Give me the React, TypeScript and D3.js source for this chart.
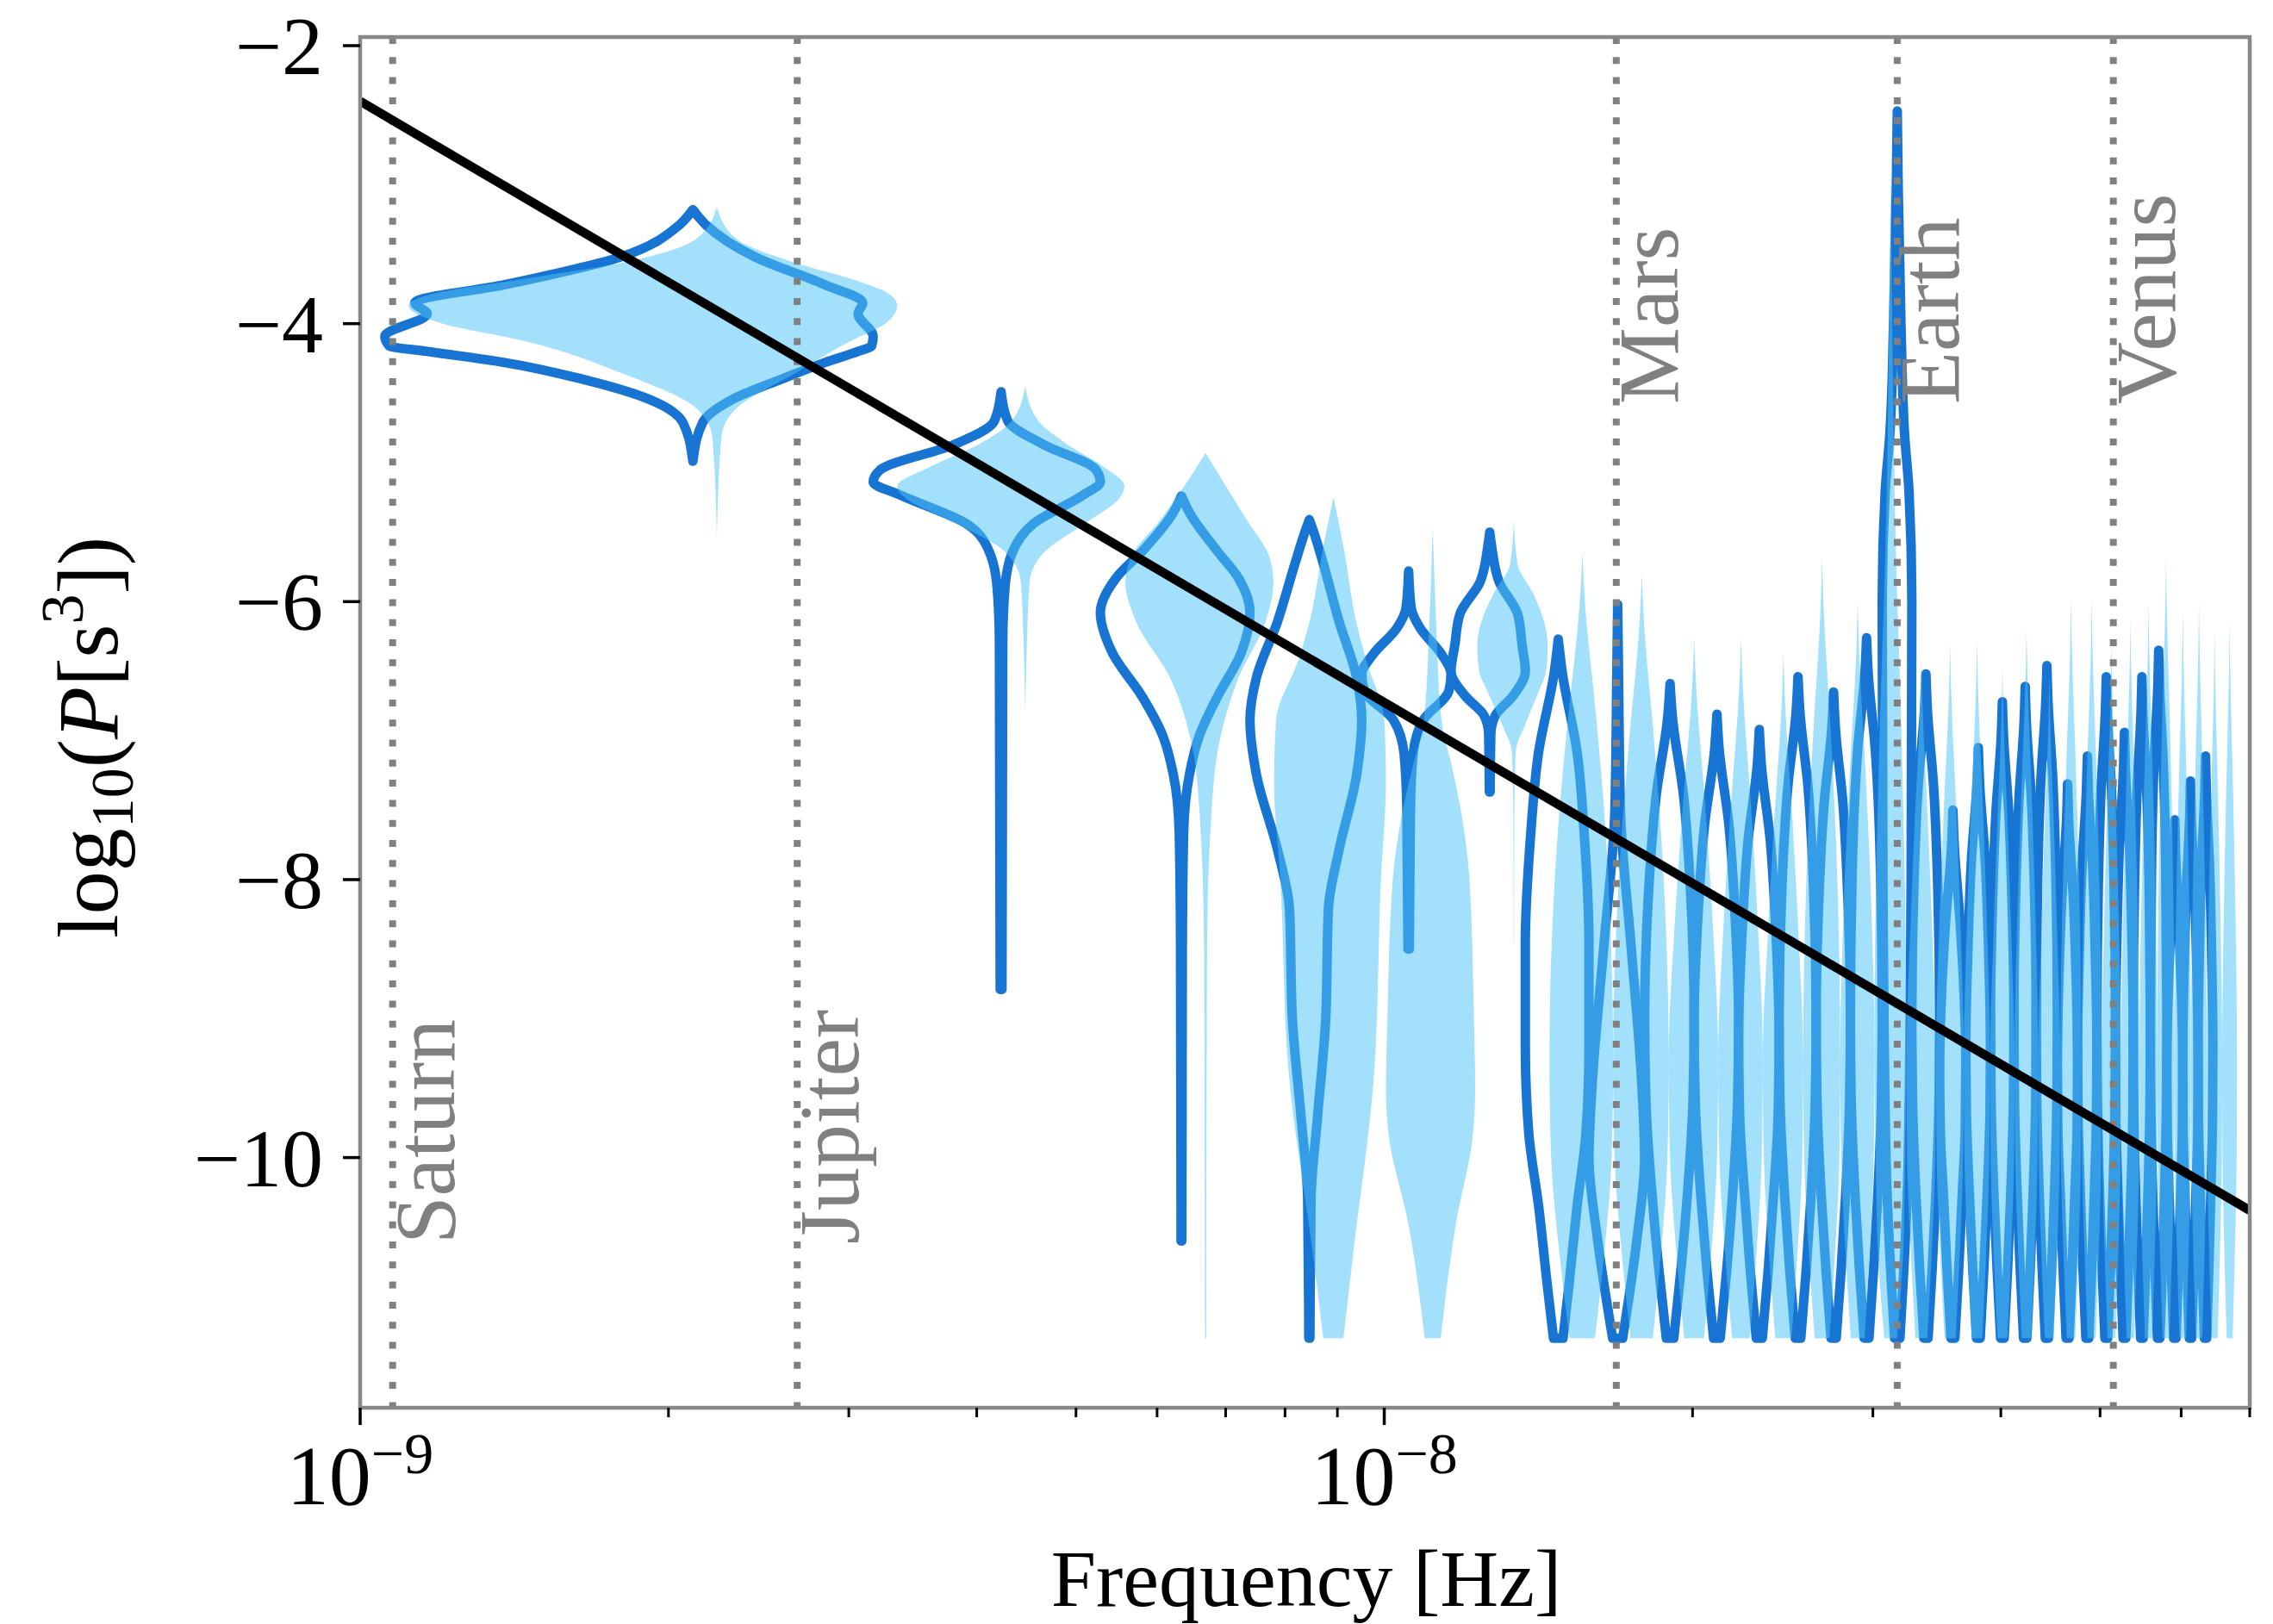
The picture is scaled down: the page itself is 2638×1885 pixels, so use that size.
import React from 'react';
import * as d3 from 'd3';

const W = 2638;
const H = 1885;

// frequency bins (nHz) of the outlined violins and of the filled violins
const freqA = [2.113, 4.225, 6.338, 8.450, 10.563, 12.676, 14.788, 16.901, 19.014, 21.126, 23.239, 25.352, 27.464, 29.577, 31.690, 33.802, 35.915, 38.028, 40.140, 42.253, 44.365, 46.478, 48.591, 50.703, 52.816, 54.929, 57.041, 59.154, 61.267, 63.379];
const freqB = [2.230, 4.461, 6.691, 8.921, 11.152, 13.382, 15.612, 17.843, 20.073, 22.304, 24.534, 26.764, 28.995, 31.225, 33.455, 35.686, 37.916, 40.147, 42.377, 44.607, 46.838, 49.068, 51.299, 53.529, 55.759, 57.990, 60.220, 62.450, 64.681, 66.911];
// violin half widths (nHz)
const halfWidthA = 1.056;
const halfWidthB = 1.115;

// violin profiles: [log10 P, relative half width]
const profA: number[][][] = [
  [[-3.18,0],[-3.29,0.06],[-3.52,0.30],[-3.72,0.69],[-3.85,0.93],[-3.93,0.90],[-4.09,1.0],[-4.16,0.99],[-4.20,0.90],[-4.28,0.69],[-4.40,0.44],[-4.55,0.18],[-4.71,0.045],[-4.99,0]],
  [[-4.49,0],[-4.70,0.06],[-4.87,0.40],[-5.05,0.95],[-5.14,1.0],[-5.23,0.82],[-5.44,0.30],[-5.65,0.10],[-5.90,0.035],[-6.30,0.015],[-8.79,0.008]],
  [[-5.24,0],[-5.36,0.11],[-5.64,0.51],[-5.83,0.82],[-6.08,1.0],[-6.36,0.87],[-6.69,0.50],[-6.96,0.25],[-7.24,0.11],[-7.66,0.03],[-8.50,0.012],[-10.6,0.005]],
  [[-5.41,0],[-5.50,0.08],[-5.72,0.25],[-6.14,0.55],[-6.55,0.90],[-6.85,1.0],[-7.24,0.90],[-7.79,0.55],[-8.21,0.35],[-9.0,0.30],[-9.7,0.15],[-10.3,0.03],[-11.3,0.01]],
  [[-5.78,0],[-6.05,0.06],[-6.19,0.26],[-6.38,0.77],[-6.52,1.0],[-6.64,0.95],[-6.85,0.34],[-7.10,0.10],[-7.50,0.04],[-8.50,0.015]],
  [[-5.50,0],[-5.60,0.05],[-5.86,0.26],[-6.09,0.78],[-6.32,0.91],[-6.50,1.0],[-6.68,0.64],[-6.82,0.15],[-6.95,0.03],[-7.37,0.01]],
  [[-6.27,0],[-6.50,0.12],[-7.09,0.61],[-7.70,0.85],[-8.46,1.0],[-9.20,1.0],[-9.82,0.90],[-10.36,0.60],[-10.9,0.35],[-11.3,0.15]],
  [[-6.02,0],[-6.50,0.03],[-7.50,0.10],[-8.50,0.50],[-9.50,0.90],[-10.0,1.0],[-10.6,0.70],[-11.3,0.18]],
  [[-6.59,0],[-6.84,0.1],[-7.39,0.55],[-8.09,0.85],[-9.0,1.0],[-9.6,0.95],[-10.3,0.7],[-10.8,0.45],[-11.3,0.15]],
  [[-6.81,0],[-7.06,0.1],[-7.61,0.55],[-8.31,0.85],[-9.0,1.0],[-9.6,0.95],[-10.3,0.7],[-10.8,0.45],[-11.3,0.15]],
  [[-6.92,0],[-7.17,0.1],[-7.72,0.55],[-8.42,0.85],[-9.1,1.0],[-9.7,0.95],[-10.3,0.7],[-10.8,0.45],[-11.3,0.15]],
  [[-6.54,0],[-6.79,0.1],[-7.34,0.55],[-8.04,0.85],[-9.0,1.0],[-9.6,0.95],[-10.3,0.7],[-10.8,0.45],[-11.3,0.15]],
  [[-6.65,0],[-6.90,0.1],[-7.45,0.55],[-8.15,0.85],[-9.0,1.0],[-9.6,0.95],[-10.3,0.7],[-10.8,0.45],[-11.3,0.15]],
  [[-6.26,0],[-6.51,0.1],[-7.06,0.55],[-7.76,0.85],[-9.0,1.0],[-9.6,0.95],[-10.3,0.7],[-10.8,0.45],[-11.3,0.15]],
  [[-2.47,0],[-3.00,0.06],[-4.00,0.25],[-4.80,0.50],[-5.20,0.80],[-6.00,1.0],[-8.00,0.95],[-10.0,0.75],[-10.8,0.45],[-11.3,0.18]],
  [[-6.52,0],[-6.77,0.1],[-7.32,0.55],[-8.02,0.85],[-9.0,1.0],[-9.6,0.95],[-10.3,0.7],[-10.8,0.45],[-11.3,0.15]],
  [[-7.50,0],[-7.75,0.1],[-8.30,0.55],[-8.80,0.85],[-9.3,1.0],[-9.8,0.95],[-10.3,0.7],[-10.8,0.45],[-11.3,0.15]],
  [[-7.05,0],[-7.30,0.1],[-7.85,0.55],[-8.55,0.85],[-9.2,1.0],[-9.7,0.95],[-10.3,0.7],[-10.8,0.45],[-11.3,0.15]],
  [[-6.72,0],[-6.97,0.1],[-7.52,0.55],[-8.22,0.85],[-9.0,1.0],[-9.6,0.95],[-10.3,0.7],[-10.8,0.45],[-11.3,0.15]],
  [[-6.61,0],[-6.86,0.1],[-7.41,0.55],[-8.11,0.85],[-9.0,1.0],[-9.6,0.95],[-10.3,0.7],[-10.8,0.45],[-11.3,0.15]],
  [[-6.46,0],[-6.71,0.1],[-7.26,0.55],[-7.96,0.85],[-9.0,1.0],[-9.6,0.95],[-10.3,0.7],[-10.8,0.45],[-11.3,0.15]],
  [[-7.31,0],[-7.56,0.1],[-8.11,0.55],[-8.70,0.85],[-9.3,1.0],[-9.8,0.95],[-10.3,0.7],[-10.8,0.45],[-11.3,0.15]],
  [[-7.11,0],[-7.36,0.1],[-7.91,0.55],[-8.61,0.85],[-9.2,1.0],[-9.7,0.95],[-10.3,0.7],[-10.8,0.45],[-11.3,0.15]],
  [[-6.54,0],[-6.79,0.1],[-7.34,0.55],[-8.04,0.85],[-9.0,1.0],[-9.6,0.95],[-10.3,0.7],[-10.8,0.45],[-11.3,0.15]],
  [[-6.94,0],[-7.19,0.1],[-7.74,0.55],[-8.44,0.85],[-9.1,1.0],[-9.7,0.95],[-10.3,0.7],[-10.8,0.45],[-11.3,0.15]],
  [[-6.54,0],[-6.79,0.1],[-7.34,0.55],[-8.04,0.85],[-9.0,1.0],[-9.6,0.95],[-10.3,0.7],[-10.8,0.45],[-11.3,0.15]],
  [[-6.35,0],[-6.60,0.1],[-7.15,0.55],[-7.85,0.85],[-9.0,1.0],[-9.6,0.95],[-10.3,0.7],[-10.8,0.45],[-11.3,0.15]],
  [[-7.57,0],[-7.82,0.1],[-8.37,0.55],[-8.85,0.85],[-9.3,1.0],[-9.8,0.95],[-10.3,0.7],[-10.8,0.45],[-11.3,0.15]],
  [[-7.29,0],[-7.54,0.1],[-8.09,0.55],[-8.70,0.85],[-9.3,1.0],[-9.8,0.95],[-10.3,0.7],[-10.8,0.45],[-11.3,0.15]],
  [[-7.11,0],[-7.36,0.1],[-7.91,0.55],[-8.61,0.85],[-9.2,1.0],[-9.7,0.95],[-10.3,0.7],[-10.8,0.45],[-11.3,0.15]],
];

const profB: number[][][] = [
  [[-3.16,0],[-3.39,0.09],[-3.56,0.38],[-3.68,0.71],[-3.79,0.95],[-3.87,1.0],[-4.00,0.92],[-4.12,0.71],[-4.36,0.38],[-4.61,0.09],[-4.82,0.02],[-5.54,0]],
  [[-4.45,0],[-4.70,0.12],[-4.86,0.38],[-5.03,0.77],[-5.17,1.0],[-5.25,0.95],[-5.44,0.57],[-5.64,0.18],[-5.86,0.04],[-6.30,0.015],[-6.80,0]],
  [[-4.93,0],[-5.11,0.21],[-5.41,0.58],[-5.67,0.92],[-5.86,0.99],[-6.14,0.87],[-6.55,0.46],[-6.96,0.21],[-7.52,0.08],[-8.50,0.02],[-11.3,0.008]],
  [[-5.25,0],[-5.58,0.17],[-6.18,0.44],[-6.41,0.60],[-6.86,0.97],[-7.30,1.0],[-8.00,0.90],[-9.37,0.77],[-10.73,0.35],[-11.3,0.18]],
  [[-5.46,0],[-6.18,0.08],[-6.86,0.20],[-7.20,0.45],[-7.55,0.68],[-8.00,0.86],[-9.00,0.97],[-9.50,1.0],[-9.82,0.95],[-10.5,0.52],[-11.3,0.18]],
  [[-5.41,0],[-5.73,0.10],[-5.95,0.55],[-6.15,0.85],[-6.32,0.95],[-6.50,0.90],[-6.64,0.70],[-6.86,0.35],[-7.09,0.05],[-7.50,0.015],[-8.45,0.005]],
  [[-5.65,0],[-6.00,0.08],[-6.85,0.45],[-7.65,0.75],[-9.3,1.0],[-10.0,0.95],[-10.7,0.7],[-11.3,0.4]],
  [[-5.80,0],[-6.15,0.08],[-7.00,0.45],[-7.80,0.75],[-9.3,1.0],[-10.0,0.95],[-10.7,0.7],[-11.3,0.4]],
  [[-6.26,0],[-6.61,0.08],[-7.46,0.45],[-8.26,0.75],[-9.3,1.0],[-10.0,0.95],[-10.7,0.7],[-11.3,0.4]],
  [[-6.26,0],[-6.61,0.08],[-7.46,0.45],[-8.26,0.75],[-9.3,1.0],[-10.0,0.95],[-10.7,0.7],[-11.3,0.4]],
  [[-6.37,0],[-6.72,0.08],[-7.57,0.45],[-8.37,0.75],[-9.3,1.0],[-10.0,0.95],[-10.7,0.7],[-11.3,0.4]],
  [[-5.69,0],[-6.04,0.08],[-6.89,0.45],[-7.69,0.75],[-9.3,1.0],[-10.0,0.95],[-10.7,0.7],[-11.3,0.4]],
  [[-6.00,0],[-6.35,0.08],[-7.20,0.45],[-8.00,0.75],[-9.3,1.0],[-10.0,0.95],[-10.7,0.7],[-11.3,0.4]],
  [[-2.90,0],[-4.00,0.10],[-5.50,0.30],[-7.00,0.70],[-9.00,1.0],[-10.5,0.85],[-11.3,0.40]],
  [[-6.40,0],[-6.75,0.08],[-7.60,0.45],[-8.40,0.75],[-9.3,1.0],[-10.0,0.95],[-10.7,0.7],[-11.3,0.4]],
  [[-6.30,0],[-6.65,0.08],[-7.50,0.45],[-8.30,0.75],[-9.3,1.0],[-10.0,0.95],[-10.7,0.7],[-11.3,0.4]],
  [[-6.28,0],[-6.63,0.08],[-7.48,0.45],[-8.28,0.75],[-9.3,1.0],[-10.0,0.95],[-10.7,0.7],[-11.3,0.4]],
  [[-6.48,0],[-6.83,0.08],[-7.68,0.45],[-8.48,0.75],[-9.3,1.0],[-10.0,0.95],[-10.7,0.7],[-11.3,0.4]],
  [[-6.19,0],[-6.54,0.08],[-7.39,0.45],[-8.19,0.75],[-9.3,1.0],[-10.0,0.95],[-10.7,0.7],[-11.3,0.4]],
  [[-6.50,0],[-6.85,0.08],[-7.70,0.45],[-8.50,0.75],[-9.3,1.0],[-10.0,0.95],[-10.7,0.7],[-11.3,0.4]],
  [[-5.98,0],[-6.33,0.08],[-7.18,0.45],[-7.98,0.75],[-9.3,1.0],[-10.0,0.95],[-10.7,0.7],[-11.3,0.4]],
  [[-5.98,0],[-6.33,0.08],[-7.18,0.45],[-7.98,0.75],[-9.3,1.0],[-10.0,0.95],[-10.7,0.7],[-11.3,0.4]],
  [[-6.30,0],[-6.65,0.08],[-7.50,0.45],[-8.30,0.75],[-9.3,1.0],[-10.0,0.95],[-10.7,0.7],[-11.3,0.4]],
  [[-6.13,0],[-6.48,0.08],[-7.33,0.45],[-8.13,0.75],[-9.3,1.0],[-10.0,0.95],[-10.7,0.7],[-11.3,0.4]],
  [[-6.00,0],[-6.35,0.08],[-7.20,0.45],[-8.00,0.75],[-9.3,1.0],[-10.0,0.95],[-10.7,0.7],[-11.3,0.4]],
  [[-5.67,0],[-6.02,0.08],[-6.87,0.45],[-7.67,0.75],[-9.3,1.0],[-10.0,0.95],[-10.7,0.7],[-11.3,0.4]],
  [[-6.05,0],[-6.40,0.08],[-7.25,0.45],[-8.05,0.75],[-9.3,1.0],[-10.0,0.95],[-10.7,0.7],[-11.3,0.4]],
  [[-6.00,0],[-6.35,0.08],[-7.20,0.45],[-8.00,0.75],[-9.3,1.0],[-10.0,0.95],[-10.7,0.7],[-11.3,0.4]],
  [[-6.20,0],[-6.55,0.08],[-7.40,0.45],[-8.20,0.75],[-9.3,1.0],[-10.0,0.95],[-10.7,0.7],[-11.3,0.4]],
  [[-6.13,0],[-6.48,0.08],[-7.33,0.45],[-8.13,0.75],[-9.3,1.0],[-10.0,0.95],[-10.7,0.7],[-11.3,0.4]],
];

// power-law line end points
const lineF = [1e-9, 7e-8];
const lineP = [-2.40, -10.38];

// planets
const planetNames = ['Saturn', 'Jupiter', 'Mars', 'Earth', 'Venus'];
const planetFreqs = [1.0757e-9, 2.6714e-9, 1.6848e-8, 3.1688e-8, 5.151e-8];

// axes ticks
const yTicks = [-2, -4, -6, -8, -10];
const xMajor = [1e-9, 1e-8];
const xMajorLabels = ['\u22129', '\u22128'];
const xMinor = [2e-9, 3e-9, 4e-9, 5e-9, 6e-9, 7e-9, 8e-9, 9e-9, 2e-8, 3e-8, 4e-8, 5e-8, 6e-8, 7e-8];

const FONT = '"Liberation Serif", "Times New Roman", serif';

export default function App() {
  const left = 410, right = 2603, top = 35, bottom = 1626;
  const x = d3.scaleLog().domain([1e-9, 7e-8]).range([left, right]);
  const y = d3.scaleLinear().domain([-11.80, -1.938]).range([bottom, top]);

  const violin = (fc: number, hw: number, prof: number[][]) =>
    d3.area<number[]>()
      .curve(d3.curveMonotoneY)
      .y(d => y(d[0]))
      .x0(d => x((fc - d[1] * hw) * 1e-9))
      .x1(d => x((fc + d[1] * hw) * 1e-9))(prof) || '';

  const line = d3.line<number>().x((_, i) => x(lineF[i])).y(d => y(d));

  const dark = '#1874d2';
  const light = '#4fc3f7';
  const gray = '#808080';

  return (
    <svg width={W} height={H} style={{ display: 'block', background: '#fff' }} fontFamily={FONT}>
      <defs>
        <clipPath id="plotclip">
          <rect x={left} y={top} width={right - left} height={bottom - top} />
        </clipPath>
      </defs>
      <g clipPath="url(#plotclip)">
        {profA.map((p, i) => (
          <path key={'a' + i} d={violin(freqA[i], halfWidthA, p)} fill="none" stroke={dark}
            strokeWidth={11} strokeLinejoin="round" />
        ))}
        {profB.map((p, i) => (
          <path key={'b' + i} d={violin(freqB[i], halfWidthB, p)} fill={light} fillOpacity={0.52} stroke="none" />
        ))}
        {planetFreqs.map((f, i) => (
          <line key={'pl' + i} x1={x(f)} x2={x(f)} y1={top} y2={bottom} stroke={gray}
            strokeWidth={8} strokeDasharray="8 15.3" />
        ))}
        <path d={line(lineP) || ''} fill="none" stroke="#000" strokeWidth={10.5} />
      </g>
      {planetNames.map((n, i) => {
        const px = x(planetFreqs[i]) + 71;
        const py = planetFreqs[i] < 5e-9 ? 1436 : 461;
        return (
          <text key={'pn' + i} transform={`translate(${px},${py}) rotate(-90)`} fontSize={100} fill={gray}>{n}</text>
        );
      })}
      {/* spines */}
      <rect x={left} y={top} width={right - left} height={bottom - top} fill="none" stroke="#888" strokeWidth={4.5} />
      {/* y ticks */}
      {yTicks.map(t => (
        <g key={'yt' + t}>
          <line x1={left - 20} x2={left} y1={y(t)} y2={y(t)} stroke="#000" strokeWidth={3.5} />
          <text x={367} y={y(t) + 33} textAnchor="end" fontSize={96}>{'\u2212' + Math.abs(t)}</text>
        </g>
      ))}
      {/* x ticks */}
      {xMajor.map((t, i) => (
        <g key={'xt' + i}>
          <line x1={x(t)} x2={x(t)} y1={bottom} y2={bottom + 20} stroke="#000" strokeWidth={3.5} />
          <text x={x(t)} y={1738} textAnchor="middle" fontSize={98}>10<tspan fontSize={68} dy={-36}>{xMajorLabels[i]}</tspan></text>
        </g>
      ))}
      {xMinor.map((t, i) => (
        <line key={'xm' + i} x1={x(t)} x2={x(t)} y1={bottom} y2={bottom + 11} stroke="#000" strokeWidth={3} />
      ))}
      {/* axis labels */}
      <text x={1508} y={1856} textAnchor="middle" fontSize={94}>Frequency [Hz]</text>
      <text transform="translate(128,848) rotate(-90)" textAnchor="middle" fontSize={100}>
        log<tspan fontSize={70} dy={18}>10</tspan><tspan dy={-18}>(</tspan><tspan fontStyle="italic">P</tspan>[s<tspan fontSize={70} dy={-40}>3</tspan><tspan dy={40}>])</tspan>
      </text>
    </svg>
  );
}
